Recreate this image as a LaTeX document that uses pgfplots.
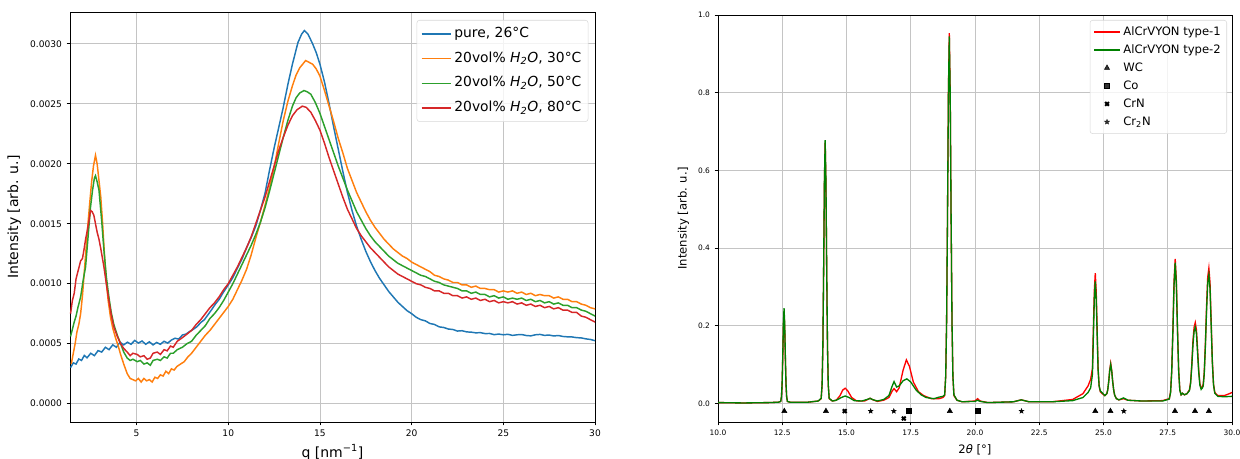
\documentclass[border=0pt]{standalone}
\usepackage{fontspec}
\setmainfont{DejaVu Sans}
\usepackage{pgfplots}
\pgfplotsset{compat=1.18}
\definecolor{tabblue}{HTML}{1F77B4}
\definecolor{taborange}{HTML}{FF7F0E}
\definecolor{tabgreen}{HTML}{2CA02C}
\definecolor{tabred}{HTML}{D62728}
\definecolor{mplred}{HTML}{FF0000}
\definecolor{mplgreen}{HTML}{008000}
\definecolor{gridc}{HTML}{C4C4C4}
\definecolor{legc}{HTML}{D8D8D8}
\pgfdeclareplotmark{fstar}{%
 \pgfpathmoveto{\pgfpointpolar{90}{\pgfplotmarksize}}%
 \pgfpathlineto{\pgfpointpolar{126}{0.42\pgfplotmarksize}}%
 \pgfpathlineto{\pgfpointpolar{162}{\pgfplotmarksize}}%
 \pgfpathlineto{\pgfpointpolar{198}{0.42\pgfplotmarksize}}%
 \pgfpathlineto{\pgfpointpolar{234}{\pgfplotmarksize}}%
 \pgfpathlineto{\pgfpointpolar{270}{0.42\pgfplotmarksize}}%
 \pgfpathlineto{\pgfpointpolar{306}{\pgfplotmarksize}}%
 \pgfpathlineto{\pgfpointpolar{342}{0.42\pgfplotmarksize}}%
 \pgfpathlineto{\pgfpointpolar{18}{\pgfplotmarksize}}%
 \pgfpathlineto{\pgfpointpolar{54}{0.42\pgfplotmarksize}}%
 \pgfpathclose\pgfusepathqfillstroke}
\pgfplotsset{
  mplstyle/.style={
    scale only axis,
    axis line style={black, line width=0.6pt},
    grid=major,
    major grid style={gridc, line width=0.6pt},
    tick pos=left,
    tick align=outside,
    major tick length=2.5pt,
    tick style={black, line width=0.6pt},
    /pgf/number format/assume math mode=true,
    scaled ticks=false,
    clip=true,
  }
}
\begin{document}
\begin{tikzpicture}
\path[use as bounding box] (0,0) rectangle (930pt,344.25pt);
% ---------------- left panel ----------------
\begin{axis}[mplstyle,
  at={(52.5pt,27.75pt)}, anchor=south west,
  width=393.75pt, height=307.5pt,
  xmin=1.37, xmax=30, ymin=-0.000153, ymax=0.003265,
  xtick={5,10,15,20,25,30},
  ytick={0,0.0005,0.001,0.0015,0.002,0.0025,0.003},
  yticklabel style={/pgf/number format/.cd, fixed, fixed zerofill, precision=4},
  ticklabel style={font=\fontsize{6.8}{8}\selectfont},
  xlabel={q [nm\textsuperscript{−1}]},
  ylabel={Intensity [arb. u.]},
  label style={font=\fontsize{10.5}{12}\selectfont},
  xlabel style={yshift=1pt},
  legend image code/.code={\draw[#1] (0pt,0pt) -- (22pt,0pt);},
  legend style={at={(1,1)}, anchor=north east, xshift=-5pt, yshift=-6pt,
    draw=legc, rounded corners=2pt, fill=white, fill opacity=0.8, text opacity=1,
    font=\fontsize{10.4}{12}\selectfont, row sep=4pt,
    nodes={text height=0.8em, text depth=0.25em, inner sep=2pt},
    inner xsep=3pt, inner ysep=3pt},
  legend cell align=left,
]
\addplot[tabblue, line width=1.1pt] coordinates {
(1.40,0.000300)(1.55,0.000340)(1.70,0.000330)(1.85,0.000372)(2.00,0.000360)(2.15,0.000402)
(2.30,0.000382)(2.50,0.000420)(2.70,0.000400)(2.90,0.000442)(3.10,0.000430)(3.30,0.000470)
(3.50,0.000450)(3.70,0.000490)(3.90,0.000470)(4.10,0.000512)(4.30,0.000490)(4.50,0.000512)
(4.70,0.000495)(4.90,0.000527)(5.10,0.000505)(5.30,0.000522)(5.50,0.000495)(5.70,0.000515)
(5.90,0.000490)(6.10,0.000510)(6.30,0.000495)(6.50,0.000520)(6.70,0.000505)(6.90,0.000530)
(7.10,0.000545)(7.30,0.000538)(7.50,0.000572)(7.70,0.000580)(7.90,0.000602)(8.10,0.000620)
(8.30,0.000642)(8.50,0.000676)(8.70,0.000700)(8.90,0.000742)(9.10,0.000785)(9.30,0.000830)
(9.50,0.000868)(9.70,0.000920)(10.0,0.000990)(10.25,0.001050)(10.5,0.001130)(10.75,0.001205)(11.0,0.001300)(11.25,0.001385)(11.5,0.001480)
(11.75,0.001610)(12.0,0.001750)(12.25,0.001945)(12.5,0.002130)(12.75,0.002300)(13.0,0.002470)(13.25,0.002660)(13.5,0.002830)(13.8,0.003010)(14.0,0.003080)
(14.15,0.003110)(14.35,0.003080)(14.6,0.003000)(14.8,0.002925)(15.0,0.002830)(15.25,0.002680)(15.5,0.002500)(15.75,0.002305)(16.0,0.002120)
(16.25,0.001935)(16.5,0.001760)(16.75,0.001610)(17.0,0.001480)(17.25,0.001370)(17.5,0.001270)(17.75,0.001185)(18.0,0.001110)(18.25,0.001045)(18.5,0.000990)(18.75,0.000935)(19.0,0.000890)
(19.25,0.000845)(19.5,0.000810)(19.75,0.000775)(20.0,0.000750)(20.25,0.000720)(20.5,0.000700)(20.75,0.000690)(21.0,0.000668)(21.25,0.000660)(21.5,0.000640)(21.75,0.000635)(22.0,0.000622)
(22.25,0.000618)(22.5,0.000605)(22.75,0.000608)(23.0,0.000598)(23.25,0.000596)(23.5,0.000590)(23.75,0.000592)(24.0,0.000584)(24.25,0.000585)(24.5,0.000575)(24.75,0.000580)(25.0,0.000574)
(25.25,0.000578)(25.5,0.000569)(25.75,0.000574)(26.0,0.000576)(26.25,0.000568)(26.5,0.000565)(26.75,0.000574)(27.0,0.000577)(27.25,0.000569)(27.5,0.000572)(27.75,0.000564)(28.0,0.000568)
(28.25,0.000560)(28.5,0.000557)(28.75,0.000556)(29.0,0.000550)(29.25,0.000548)(29.5,0.000540)(29.75,0.000535)(30.0,0.000525)};
\addlegendentry{pure, 26°C}
\addplot[taborange, line width=1.1pt] coordinates {
(1.44,0.00033)(1.55,0.00042)(1.65,0.00050)(1.75,0.00060)(1.85,0.00066)(1.95,0.00075)
(2.05,0.00090)(2.15,0.00110)(2.25,0.00130)(2.35,0.00150)(2.45,0.00168)(2.55,0.00185)
(2.65,0.00198)(2.76,0.00207)(2.85,0.00200)(2.95,0.00186)(3.05,0.00172)(3.15,0.00150)
(3.25,0.00124)(3.35,0.00102)(3.45,0.00086)(3.58,0.00072)(3.70,0.00063)(3.85,0.00055)
(4.00,0.00048)(4.13,0.00041)(4.30,0.00033)(4.49,0.00025)(4.65,0.00021)(4.80,0.00020)
(4.95,0.00019)(5.10,0.00021)(5.25,0.00018)(5.40,0.00021)(5.55,0.00019)(5.70,0.00020)
(5.85,0.00018)(6.00,0.00022)(6.15,0.00021)(6.30,0.00024)(6.45,0.00023)(6.60,0.00027)
(6.75,0.00025)(6.90,0.00029)(7.05,0.00028)(7.20,0.00031)(7.40,0.00033)(7.60,0.00035)
(7.80,0.00039)(8.00,0.00042)(8.25,0.00047)(8.50,0.00052)(8.75,0.00057)(9.00,0.00061)
(9.25,0.00066)(9.50,0.00071)(9.75,0.00076)(10.0,0.00081)(10.25,0.00087)(10.5,0.00095)(10.75,0.00103)(11.0,0.00112)(11.25,0.00124)
(11.5,0.00138)(11.75,0.00151)(12.0,0.00165)(12.25,0.00180)(12.5,0.00197)(12.75,0.00217)(13.0,0.00236)(13.25,0.00252)(13.5,0.00265)(13.7,0.00274)(13.9,0.00280)
(14.22,0.00286)(14.6,0.00283)(14.8,0.00279)(15.0,0.00273)(15.25,0.00261)(15.5,0.00248)(15.75,0.00235)(16.0,0.00221)(16.25,0.00209)(16.5,0.00196)
(16.75,0.00186)(17.0,0.00176)(17.25,0.00168)(17.5,0.00160)(17.75,0.00153)(18.0,0.00147)(18.25,0.00142)(18.5,0.00137)(18.75,0.00133)(19.0,0.00129)(19.25,0.00126)(19.5,0.00123)
(19.75,0.00121)(20.0,0.00118)(20.25,0.00116)(20.5,0.00114)(20.75,0.00112)(21.0,0.00110)(21.25,0.00107)(21.5,0.00106)(21.75,0.00104)(22.0,0.00103)(22.25,0.00101)(22.5,0.00101)
(22.75,0.00099)(23.0,0.00099)(23.25,0.00097)(23.5,0.00098)(23.75,0.00096)(24.0,0.00096)(24.25,0.00095)(24.5,0.00095)(24.75,0.00093)(25.0,0.00094)(25.25,0.00093)(25.5,0.00094)
(25.75,0.00092)(26.0,0.00093)(26.25,0.00091)(26.5,0.00092)(26.75,0.00090)(27.0,0.00091)(27.25,0.00090)(27.5,0.00090)(27.75,0.00088)(28.0,0.00089)(28.25,0.00087)(28.5,0.00087)
(28.75,0.00085)(29.0,0.00085)(29.25,0.00083)(29.5,0.00082)(29.75,0.00080)(30.0,0.00079)};
\addlegendentry{20vol\% \textit{H\textsubscript{2}O}, 30°C}
\addplot[tabgreen, line width=1.1pt] coordinates {
(1.40,0.00056)(1.50,0.00062)(1.60,0.00068)(1.70,0.00073)(1.80,0.00080)(1.95,0.00089)
(2.10,0.00104)(2.22,0.00114)(2.35,0.00138)(2.49,0.00164)(2.60,0.00178)(2.70,0.00188)
(2.76,0.00190)(2.85,0.00185)(2.95,0.00178)(3.10,0.00152)(3.22,0.00128)(3.35,0.00106)
(3.49,0.00089)(3.62,0.00076)(3.76,0.00066)(3.95,0.00057)(4.13,0.00050)(4.30,0.00043)
(4.49,0.00038)(4.65,0.00036)(4.80,0.00037)(5.04,0.00035)(5.20,0.00036)(5.40,0.00033)
(5.58,0.00034)(5.75,0.00032)(5.90,0.00036)(6.13,0.00037)(6.30,0.00036)(6.50,0.00039)
(6.67,0.00038)(6.85,0.00042)(7.00,0.00042)(7.22,0.00045)(7.50,0.00047)(7.75,0.00050)
(8.00,0.00052)(8.25,0.00057)(8.50,0.00061)(8.75,0.00065)(9.00,0.00071)(9.25,0.00075)(9.50,0.00080)(9.75,0.00086)(10.0,0.00093)(10.25,0.00100)(10.5,0.00108)
(10.75,0.00116)(11.0,0.00124)(11.25,0.00132)(11.5,0.00141)(11.75,0.00151)(12.0,0.00163)(12.25,0.00177)(12.5,0.00192)(12.75,0.00207)(13.0,0.00222)(13.25,0.00236)(13.5,0.00248)
(13.7,0.00255)(13.9,0.00259)(14.13,0.00261)(14.3,0.00260)(14.5,0.00258)(14.75,0.00251)(15.0,0.00242)(15.25,0.00231)(15.5,0.00220)(15.75,0.00209)(16.0,0.00198)
(16.25,0.00188)(16.5,0.00178)(16.75,0.00169)(17.0,0.00160)(17.25,0.00153)(17.5,0.00146)(17.75,0.00140)(18.0,0.00135)(18.25,0.00131)(18.5,0.00127)(18.75,0.00123)(19.0,0.00120)
(19.25,0.00117)(19.5,0.00115)(19.75,0.00113)(20.0,0.00111)(20.25,0.00109)(20.5,0.00107)(20.75,0.00106)(21.0,0.00104)(21.25,0.00102)(21.5,0.00101)(21.75,0.00099)(22.0,0.00098)
(22.25,0.00097)(22.5,0.00096)(22.75,0.00094)(23.0,0.00094)(23.25,0.00092)(23.5,0.00093)(23.75,0.00091)(24.0,0.00091)(24.25,0.00089)(24.5,0.00090)(24.75,0.00088)(25.0,0.00089)
(25.25,0.00087)(25.5,0.00088)(25.75,0.00087)(26.0,0.00088)(26.25,0.00086)(26.5,0.00087)(26.75,0.00085)(27.0,0.00086)(27.25,0.00084)(27.5,0.00085)(27.75,0.00083)(28.0,0.00084)
(28.25,0.00082)(28.5,0.00082)(28.75,0.00080)(29.0,0.00080)(29.25,0.00078)(29.5,0.00077)(29.75,0.00075)(30.0,0.00073)};
\addlegendentry{20vol\% \textit{H\textsubscript{2}O}, 50°C}
\addplot[tabred, line width=1.1pt] coordinates {
(1.40,0.00075)(1.50,0.00086)(1.60,0.00092)(1.70,0.00104)(1.80,0.00110)(1.95,0.00119)
(2.05,0.00121)(2.13,0.00128)(2.22,0.00137)(2.31,0.00144)(2.40,0.00152)(2.49,0.00161)
(2.58,0.00160)(2.67,0.00157)(2.76,0.00150)(2.85,0.00143)(2.95,0.00137)(3.04,0.00130)
(3.13,0.00122)(3.22,0.00114)(3.35,0.00100)(3.49,0.00086)(3.62,0.00074)(3.76,0.00064)
(3.95,0.00056)(4.13,0.00050)(4.30,0.00046)(4.49,0.00043)(4.65,0.00040)(4.80,0.00042)
(5.04,0.00041)(5.20,0.00039)(5.40,0.00040)(5.58,0.00037)(5.75,0.00038)(5.90,0.00042)
(6.13,0.00043)(6.30,0.00041)(6.50,0.00045)(6.67,0.00044)(6.85,0.00048)(7.00,0.00047)
(7.22,0.00052)(7.50,0.00055)(7.75,0.00058)(8.00,0.00061)(8.25,0.00066)(8.50,0.00070)(8.75,0.00075)(9.00,0.00080)(9.25,0.00084)
(9.50,0.00089)(9.75,0.00095)(10.0,0.00100)(10.25,0.00107)(10.5,0.00114)(10.75,0.00122)(11.0,0.00130)(11.25,0.00139)(11.5,0.00150)(11.75,0.00161)(12.0,0.00172)
(12.25,0.00185)(12.5,0.00198)(12.75,0.00211)(13.0,0.00222)(13.25,0.00232)(13.5,0.00240)(13.75,0.00245)(14.04,0.00248)(14.25,0.00247)(14.5,0.00243)(14.75,0.00236)(15.0,0.00228)
(15.25,0.00217)(15.5,0.00205)(15.75,0.00194)(16.0,0.00183)(16.25,0.00172)(16.5,0.00162)(16.75,0.00154)(17.0,0.00146)(17.25,0.00140)(17.5,0.00135)(17.75,0.00130)(18.0,0.00126)
(18.25,0.00122)(18.5,0.00118)(18.75,0.00114)(19.0,0.00111)(19.25,0.00108)(19.5,0.00106)(19.75,0.00104)(20.0,0.00102)(20.25,0.00100)(20.5,0.00099)(20.75,0.00097)(21.0,0.00096)
(21.25,0.00094)(21.5,0.00094)(21.75,0.00092)(22.0,0.00092)(22.25,0.00090)(22.5,0.00090)(22.75,0.00088)(23.0,0.00089)(23.25,0.00087)(23.5,0.00088)(23.75,0.00086)(24.0,0.00087)
(24.25,0.00085)(24.5,0.00086)(24.75,0.00084)(25.0,0.00085)(25.25,0.00084)(25.5,0.00085)(25.75,0.00083)(26.0,0.00084)(26.25,0.00082)(26.5,0.00083)(26.75,0.00081)(27.0,0.00082)
(27.25,0.00080)(27.5,0.00081)(27.75,0.00079)(28.0,0.00080)(28.25,0.00078)(28.5,0.00078)(28.75,0.00076)(29.0,0.00076)(29.25,0.00073)(29.5,0.00072)(29.75,0.00070)(30.0,0.00068)};
\addlegendentry{20vol\% \textit{H\textsubscript{2}O}, 80°C}
\end{axis}
% ---------------- right panel ----------------
\begin{axis}[mplstyle,
  at={(538.5pt,27.75pt)}, anchor=south west,
  width=385.5pt, height=305.25pt,
  xmin=10, xmax=30, ymin=-0.048, ymax=1.0,
  xtick={10,12.5,15,17.5,20,22.5,25,27.5,30},
  ytick={0,0.2,0.4,0.6,0.8,1.0},
  xticklabel style={/pgf/number format/.cd, fixed, fixed zerofill, precision=1},
  yticklabel style={/pgf/number format/.cd, fixed, fixed zerofill, precision=1},
  ticklabel style={font=\fontsize{5.6}{7}\selectfont},
  xlabel={2\textit{θ} [°]},
  ylabel={Intensity [arb. u.]},
  label style={font=\fontsize{8.7}{10}\selectfont},
  legend image code/.code={\draw[mark repeat=2,mark phase=2,#1] plot coordinates {(0pt,0pt)(9.75pt,0pt)(19.5pt,0pt)};},
  legend style={at={(1,1)}, anchor=north east, xshift=-3.75pt, yshift=-3.75pt,
    draw=legc, rounded corners=2pt, fill=white, fill opacity=0.8, text opacity=1,
    font=\fontsize{8.7}{10}\selectfont, row sep=0pt,
    nodes={text height=0.75em, text depth=0.2em, inner sep=2pt},
    inner xsep=2.5pt, inner ysep=2pt},
  legend cell align=left,
]
\addplot[mplred, line width=1pt] coordinates {
(10.0,0.002)(11.0,0.001)(12.0,0.002)(12.35,0.003)
(12.44,0.005)(12.47,0.017)(12.495,0.05)(12.52,0.117)(12.545,0.196)(12.57,0.233)(12.595,0.196)(12.62,0.117)(12.645,0.05)(12.67,0.017)(12.70,0.005)
(12.8,0.003)(13.5,0.003)(13.9,0.006)
(14.014,0.012)(14.05,0.047)(14.08,0.146)(14.11,0.338)(14.14,0.565)(14.17,0.671)(14.20,0.565)(14.23,0.338)(14.26,0.146)(14.29,0.047)(14.326,0.012)
(14.45,0.006)(14.6,0.008)(14.75,0.02)(14.85,0.034)(14.95,0.039)(15.05,0.032)(15.2,0.015)
(15.4,0.006)(15.7,0.006)(15.85,0.011)(15.92,0.013)(16.0,0.01)(16.2,0.005)(16.45,0.008)(16.65,0.015)
(16.78,0.032)(16.85,0.038)(16.95,0.03)(17.05,0.04)(17.2,0.085)(17.33,0.112)(17.45,0.095)(17.6,0.055)
(17.8,0.03)(18.0,0.02)(18.3,0.012)(18.6,0.012)(18.75,0.015)
(18.82,0.02)(18.86,0.07)(18.895,0.21)(18.93,0.48)(18.965,0.80)(19.0,0.953)(19.035,0.80)(19.07,0.48)(19.105,0.21)(19.14,0.07)(19.18,0.02)
(19.3,0.008)(19.5,0.004)(20.0,0.006)(20.1,0.012)(20.2,0.006)(20.5,0.002)
(21.5,0.004)(21.8,0.009)(22.1,0.004)(23.0,0.004)(23.8,0.01)
(24.2,0.025)(24.4,0.045)(24.5,0.062)(24.57,0.09)(24.605,0.19)(24.643,0.29)(24.68,0.335)(24.718,0.285)(24.755,0.185)(24.79,0.09)(24.83,0.045)(24.875,0.03)(24.95,0.025)(25.05,0.02)
(25.13,0.025)(25.165,0.035)(25.205,0.058)(25.24,0.085)(25.28,0.103)(25.32,0.085)(25.355,0.058)(25.395,0.035)(25.43,0.022)(25.5,0.012)
(25.6,0.009)(25.78,0.012)(25.95,0.008)(26.5,0.006)(27.3,0.007)
(27.56,0.012)(27.61,0.03)(27.655,0.085)(27.70,0.19)(27.745,0.315)(27.79,0.372)(27.835,0.315)(27.88,0.19)(27.925,0.085)(27.97,0.035)(28.02,0.022)(28.07,0.026)(28.15,0.022)
(28.25,0.025)(28.345,0.035)(28.39,0.055)(28.435,0.1)(28.48,0.16)(28.525,0.196)(28.57,0.208)(28.615,0.19)(28.66,0.14)(28.705,0.085)(28.75,0.05)(28.80,0.04)(28.85,0.042)
(28.88,0.05)(28.92,0.08)(28.965,0.155)(29.01,0.25)(29.055,0.325)(29.1,0.348)(29.145,0.31)(29.19,0.21)(29.235,0.11)(29.28,0.05)(29.33,0.028)(29.45,0.02)(29.7,0.02)(29.9,0.025)(30.0,0.028)};
\addlegendentry{AlCrVYON type-1}
\addplot[mplgreen, line width=1pt] coordinates {
(10.0,0.002)(11.0,0.001)(12.0,0.002)(12.35,0.003)
(12.44,0.005)(12.47,0.018)(12.495,0.053)(12.52,0.123)(12.545,0.206)(12.57,0.245)(12.595,0.206)(12.62,0.123)(12.645,0.053)(12.67,0.018)(12.70,0.005)
(12.8,0.003)(13.5,0.003)(13.9,0.006)
(14.014,0.013)(14.05,0.048)(14.08,0.147)(14.11,0.342)(14.14,0.571)(14.17,0.678)(14.20,0.571)(14.23,0.342)(14.26,0.147)(14.29,0.048)(14.326,0.013)
(14.45,0.006)(14.6,0.008)(14.8,0.015)(14.95,0.019)(15.1,0.015)(15.3,0.007)(15.6,0.006)
(15.85,0.011)(15.92,0.013)(16.0,0.01)(16.2,0.006)(16.45,0.01)(16.65,0.02)(16.78,0.045)(16.85,0.056)
(16.95,0.042)(17.05,0.045)(17.2,0.058)(17.35,0.063)(17.5,0.055)(17.7,0.035)(17.9,0.022)(18.1,0.015)
(18.4,0.012)(18.6,0.016)(18.75,0.018)
(18.82,0.022)(18.86,0.07)(18.895,0.21)(18.93,0.48)(18.965,0.795)(19.0,0.945)(19.035,0.795)(19.07,0.48)(19.105,0.21)(19.14,0.07)(19.18,0.022)
(19.3,0.008)(19.5,0.004)(20.0,0.005)(20.1,0.008)(20.2,0.005)(20.5,0.002)
(21.5,0.004)(21.8,0.009)(22.1,0.004)(23.0,0.004)(23.8,0.007)
(24.2,0.015)(24.4,0.028)(24.5,0.04)(24.57,0.075)(24.605,0.17)(24.643,0.27)(24.68,0.314)(24.718,0.265)(24.755,0.17)(24.79,0.085)(24.83,0.045)(24.875,0.032)(24.95,0.027)(25.05,0.02)
(25.13,0.025)(25.165,0.035)(25.205,0.057)(25.24,0.083)(25.28,0.1)(25.32,0.083)(25.355,0.057)(25.395,0.035)(25.43,0.022)(25.5,0.012)
(25.6,0.009)(25.78,0.014)(25.95,0.008)(26.5,0.006)(27.3,0.006)
(27.56,0.011)(27.61,0.028)(27.655,0.082)(27.70,0.185)(27.745,0.305)(27.79,0.362)(27.835,0.305)(27.88,0.185)(27.925,0.082)(27.97,0.033)(28.02,0.022)(28.07,0.026)(28.15,0.022)
(28.25,0.025)(28.345,0.033)(28.39,0.052)(28.435,0.095)(28.48,0.15)(28.525,0.185)(28.57,0.196)(28.615,0.18)(28.66,0.13)(28.705,0.08)(28.75,0.047)(28.80,0.036)(28.85,0.04)
(28.88,0.045)(28.92,0.075)(28.965,0.148)(29.01,0.238)(29.055,0.31)(29.1,0.331)(29.145,0.295)(29.19,0.2)(29.235,0.105)(29.28,0.048)(29.33,0.026)(29.45,0.018)(29.7,0.017)(30.0,0.018)};
\addlegendentry{AlCrVYON type-2}
\addplot[only marks, mark=triangle*, mark size=2.2pt, black] coordinates {
(12.58,-0.02)(14.2,-0.02)(19.02,-0.02)(24.68,-0.02)(25.27,-0.02)(27.78,-0.02)(28.56,-0.02)(29.1,-0.02)};
\addlegendentry{WC}
\addplot[only marks, mark=square*, mark size=1.9pt, black] coordinates {
(17.43,-0.02)(20.11,-0.02)};
\addlegendentry{Co}
\addplot[only marks, mark=x, mark size=2pt, black, line width=1.5pt] coordinates {
(14.93,-0.02)(17.23,-0.039)};
\addlegendentry{CrN}
\addplot[only marks, mark=fstar, mark size=2pt, black, line width=0.2pt] coordinates {
(15.94,-0.02)(16.84,-0.02)(21.81,-0.02)(25.79,-0.02)};
\addlegendentry{Cr\textsubscript{2}N}
\end{axis}
\end{tikzpicture}
\end{document}
